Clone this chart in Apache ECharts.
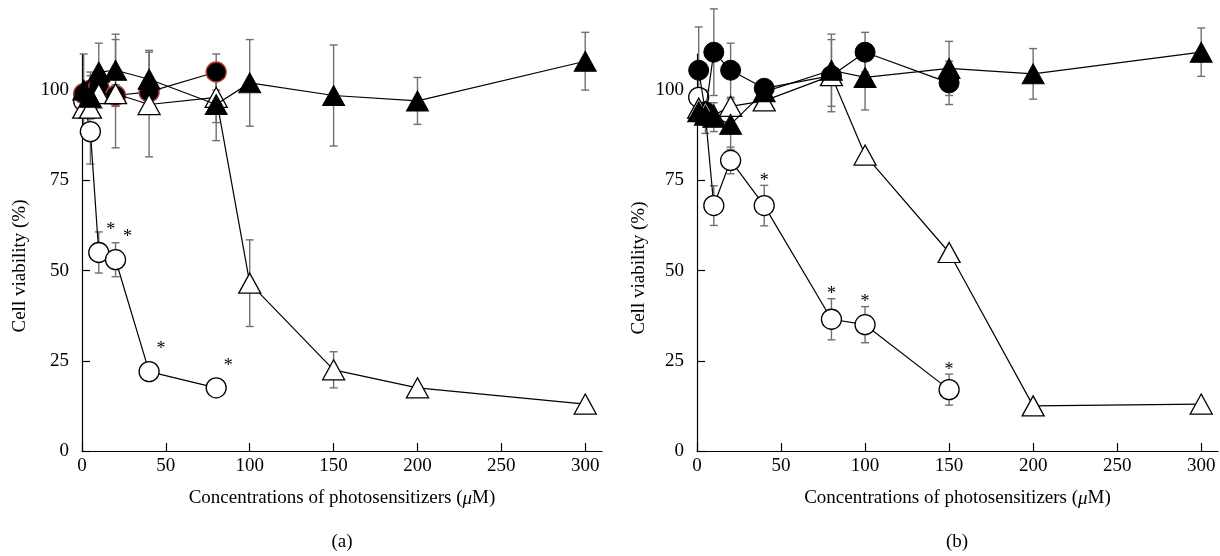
<!DOCTYPE html>
<html>
<head>
<meta charset="utf-8">
<script src="https://cdn.jsdelivr.net/npm/echarts@6/dist/echarts.min.js"></script>
<style>html,body{margin:0;padding:0;background:#fff}#chart{width:1220px;height:556px}</style>
</head>
<body>
<div id="chart"></div>
<script>
// ---------- data ----------
const xTicks = [0, 50, 100, 150, 200, 250, 300];
const yTicks = [0, 25, 50, 75, 100];
const xTitle = ['Concentrations of photosensitizers (', 'μ', 'M)'];
const yTitle = 'Cell viability (%)';
const panelLabels = ['(a)', '(b)'];

// Panel (a)
const a_openCircle_x = [1, 5, 10, 20, 40, 80];
const a_openCircle_y = [97, 88.5, 55, 53, 22, 17.5];
const a_openCircle_err = [0, 9, 5.7, 4.7, 0, 0];
const a_filledCircle_x = [1, 5, 10, 20, 40, 80];
const a_filledCircle_y = [99, 100, 101, 98.5, 99.5, 105];
const a_filledCircle_err = [11, 5, 4, 3, 3, 5];
const a_openTri_x = [1, 5, 10, 20, 40, 80, 100, 150, 200, 300];
const a_openTri_y = [95, 95, 99, 99, 96, 98, 46.5, 22.5, 17.5, 13];
const a_openTri_err = [0, 0, 4, 15, 14.5, 7, 12, 5, 0, 0];
const a_filledTri_x = [1, 5, 10, 20, 40, 80, 100, 150, 200, 300];
const a_filledTri_y = [100, 98, 105, 105.5, 103, 96, 102, 98.5, 97, 108];
const a_filledTri_err = [0, 6, 8, 10, 8, 10, 12, 14, 6.5, 8];
const a_stars = [10, 20, 40, 80];

// Panel (b)
const b_openCircle_x = [1, 5, 10, 20, 40, 80, 100, 150];
const b_openCircle_y = [98, 93, 68, 80.5, 68, 36.5, 35, 17];
const b_openCircle_err = [0, 0, 5.5, 3.7, 5.6, 5.7, 5, 4.3];
const b_filledCircle_x = [1, 5, 10, 20, 40, 80, 100, 150];
const b_filledCircle_y = [105.5, 94, 110.5, 105.5, 100.5, 104, 110.5, 102];
const b_filledCircle_err = [12, 6, 12, 7.5, 2, 10, 5.5, 6];
const b_openTri_x = [1, 5, 10, 20, 40, 80, 100, 150, 200, 300];
const b_openTri_y = [95, 94, 93, 95.5, 97, 104, 82, 55, 12.5, 13];
const b_openTri_err = [0, 0, 0, 0, 0, 0, 0, 0, 0, 0];
const b_filledTri_x = [1, 5, 10, 20, 40, 80, 100, 150, 200, 300];
const b_filledTri_y = [94, 93, 92.5, 90.5, 99.5, 105.5, 103.5, 106, 104.5, 110.5];
const b_filledTri_err = [0, 0, 4, 7, 2, 10, 9, 7.5, 7, 6.7];
const b_stars = [40, 80, 100, 150];

// ---------- styles ----------
const FONT = 'Liberation Serif';
const ERR_COLOR = '#707070';

function pairs(xs, ys) { return xs.map((x, i) => [x, ys[i]]); }
function errTriples(xs, ys, es) { return xs.map((x, i) => [x, ys[i], es[i]]).filter(d => d[2] > 0); }

const styles = {
  openCircle: { symbol: 'circle', symbolSize: 20, itemStyle: { color: '#fff', borderColor: '#000', borderWidth: 1.3 } },
  filledCircleA: { symbol: 'circle', symbolSize: 20, itemStyle: { color: '#000', borderColor: '#b23b3b', borderWidth: 1.4 } },
  filledCircleB: { symbol: 'circle', symbolSize: 20, itemStyle: { color: '#000', borderColor: '#000', borderWidth: 1 } },
  openTri: { symbol: 'triangle', symbolSize: [22, 20], itemStyle: { color: '#fff', borderColor: '#000', borderWidth: 1.3 } },
  filledTri: { symbol: 'triangle', symbolSize: [22, 20], itemStyle: { color: '#000', borderColor: '#000', borderWidth: 1 } }
};

function lineSeries(name, idx, data, st, z) {
  return Object.assign({
    name, type: 'line', xAxisIndex: idx, yAxisIndex: idx, data,
    showAllSymbol: true, clip: false, z,
    lineStyle: { color: '#000', width: 1.2 },
    emphasis: { disabled: true }, animation: false
  }, st);
}

function errSeries(idx, data) {
  return {
    type: 'custom', xAxisIndex: idx, yAxisIndex: idx, data, clip: false, z: 1, animation: false, silent: true,
    renderItem: function (params, api) {
      const x = api.value(0), y = api.value(1), e = api.value(2);
      const t = api.coord([x, y + e]), b = api.coord([x, y - e]);
      const st = { stroke: ERR_COLOR, lineWidth: 1.4 };
      const hw = 4;
      return { type: 'group', children: [
        { type: 'line', shape: { x1: t[0], y1: t[1], x2: b[0], y2: b[1] }, style: st },
        { type: 'line', shape: { x1: t[0] - hw, y1: t[1], x2: t[0] + hw, y2: t[1] }, style: st },
        { type: 'line', shape: { x1: b[0] - hw, y1: b[1], x2: b[0] + hw, y2: b[1] }, style: st }
      ] };
    }
  };
}

function starSeries(idx, data, dx, dy) {
  return {
    type: 'custom', xAxisIndex: idx, yAxisIndex: idx, data, clip: false, z: 20, animation: false, silent: true,
    renderItem: function (params, api) {
      const p = api.coord([api.value(0), api.value(1)]);
      return { type: 'text', x: p[0] + dx, y: p[1] + dy,
        style: { text: '*', font: '18px "' + FONT + '"', fill: '#000', align: 'center', verticalAlign: 'middle' } };
    }
  };
}

// star anchor points
const a_starData = a_stars.map(x => { const i = a_openCircle_x.indexOf(x); return [x, a_openCircle_y[i]]; });
const b_starData = b_stars.map(x => { const i = b_openCircle_x.indexOf(x); return [x, b_openCircle_y[i] + b_openCircle_err[i]]; });

function xAxisCfg(idx) {
  return {
    type: 'value', gridIndex: idx, min: 0, max: 310,
    name: '{n|' + xTitle[0] + '}{i|' + xTitle[1] + '}{n|' + xTitle[2] + '}',
    nameLocation: 'middle', nameGap: 38,
    nameTextStyle: { rich: {
      n: { fontFamily: FONT, fontSize: 19, color: '#000' },
      i: { fontFamily: FONT, fontSize: 19, color: '#000', fontStyle: 'italic' } } },
    axisLine: { lineStyle: { color: '#000', width: 1.2 } },
    axisTick: { inside: true, length: 8, customValues: xTicks, lineStyle: { color: '#000', width: 1.2 } },
    axisLabel: { customValues: xTicks, margin: 6, fontFamily: FONT, fontSize: 19, color: '#000' },
    splitLine: { show: false }
  };
}
function yAxisCfg(idx) {
  return {
    type: 'value', gridIndex: idx, min: 0, max: 110,
    axisLine: { show: true, lineStyle: { color: '#000', width: 1.2 } },
    axisTick: { show: true, inside: true, length: 8, customValues: yTicks, lineStyle: { color: '#000', width: 1.2 } },
    axisLabel: { customValues: yTicks, margin: 13, fontFamily: FONT, fontSize: 19, color: '#000' },
    splitLine: { show: false }
  };
}

function yTitleText(x, y) {
  return { type: 'text', x, y, rotation: Math.PI / 2,
    style: { text: yTitle, font: '19px "' + FONT + '"', fill: '#000', align: 'center', verticalAlign: 'middle' } };
}

const chart = echarts.init(document.getElementById('chart'), null, { renderer: 'canvas' });
chart.setOption({
  backgroundColor: '#fff',
  animation: false,
  grid: [
    { left: 82, right: 618, top: 54, bottom: 105 },
    { left: 697, right: 2, top: 54, bottom: 105 }
  ],
  xAxis: [xAxisCfg(0), xAxisCfg(1)],
  yAxis: [yAxisCfg(0), yAxisCfg(1)],
  graphic: [
    yTitleText(20, 266),
    yTitleText(639, 268),
    { type: 'text', x: 342, y: 542, style: { text: panelLabels[0], font: '19px "' + FONT + '"', fill: '#000', align: 'center', verticalAlign: 'middle' } },
    { type: 'text', x: 957, y: 542, style: { text: panelLabels[1], font: '19px "' + FONT + '"', fill: '#000', align: 'center', verticalAlign: 'middle' } }
  ],
  series: [
    errSeries(0, [].concat(
      errTriples(a_openCircle_x, a_openCircle_y, a_openCircle_err),
      errTriples(a_filledCircle_x, a_filledCircle_y, a_filledCircle_err),
      errTriples(a_openTri_x, a_openTri_y, a_openTri_err),
      errTriples(a_filledTri_x, a_filledTri_y, a_filledTri_err))),
    lineSeries('a open circle', 0, pairs(a_openCircle_x, a_openCircle_y), styles.openCircle, 3),
    lineSeries('a filled circle', 0, pairs(a_filledCircle_x, a_filledCircle_y), styles.filledCircleA, 4),
    lineSeries('a open triangle', 0, pairs(a_openTri_x, a_openTri_y), styles.openTri, 5),
    lineSeries('a filled triangle', 0, pairs(a_filledTri_x, a_filledTri_y), styles.filledTri, 6),
    starSeries(0, a_starData, 12, -22),

    errSeries(1, [].concat(
      errTriples(b_openCircle_x, b_openCircle_y, b_openCircle_err),
      errTriples(b_filledCircle_x, b_filledCircle_y, b_filledCircle_err),
      errTriples(b_openTri_x, b_openTri_y, b_openTri_err),
      errTriples(b_filledTri_x, b_filledTri_y, b_filledTri_err))),
    lineSeries('b open circle', 1, pairs(b_openCircle_x, b_openCircle_y), styles.openCircle, 3),
    lineSeries('b filled circle', 1, pairs(b_filledCircle_x, b_filledCircle_y), styles.filledCircleB, 4),
    lineSeries('b open triangle', 1, pairs(b_openTri_x, b_openTri_y), styles.openTri, 5),
    lineSeries('b filled triangle', 1, pairs(b_filledTri_x, b_filledTri_y), styles.filledTri, 6),
    starSeries(1, b_starData, 0, -4)
  ]
});
</script>
</body>
</html>
